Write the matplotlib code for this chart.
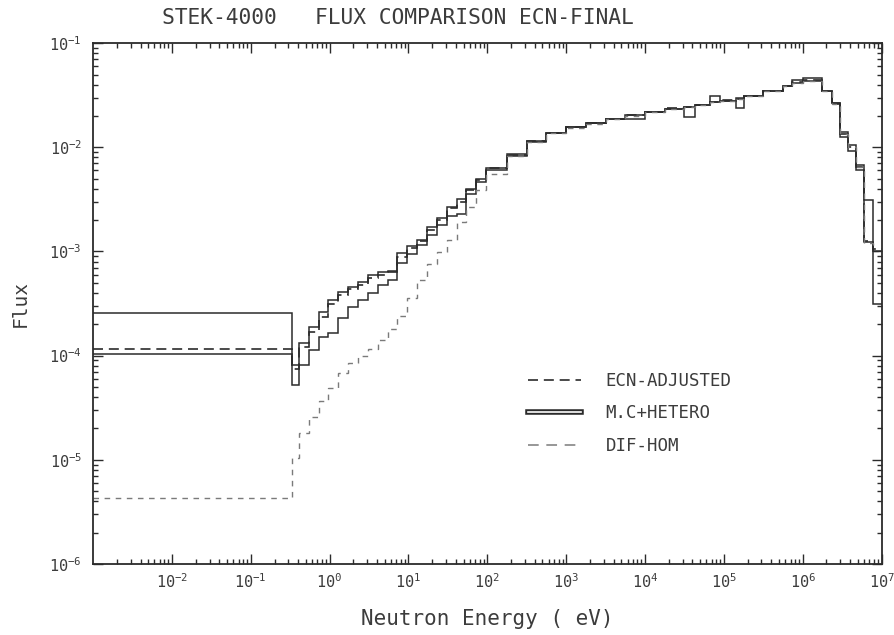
import numpy as np
import matplotlib
matplotlib.use("Agg")
import matplotlib.pyplot as plt
from matplotlib.lines import Line2D
from matplotlib.ticker import LogLocator, NullFormatter
import matplotlib.patheffects as pe

plt.rcParams["font.family"] = ["DejaVu Sans Mono", "DejaVu Sans"]
plt.rcParams["mathtext.default"] = "regular"

# Energy group boundaries (eV)
energy_edges = [1e-3, 0.33, 0.41, 0.543, 0.724, 0.966, 1.288, 1.718, 2.29,
                3.055, 4.07, 5.43, 7.24, 9.66, 12.9, 17.2, 22.9, 30.5, 40.7,
                54.3, 72.4, 96.6, 178, 316, 562, 1000, 1778, 3162, 5623,
                1.0e4, 1.78e4, 3.16e4, 4.27e4, 6.61e4, 8.91e4, 1.445e5,
                1.82e5, 3.16e5, 5.62e5, 7.41e5, 1.0e6, 1.32e6, 1.74e6,
                2.34e6, 2.95e6, 3.72e6, 4.79e6, 6.03e6, 7.76e6, 1.0e7]

# Group fluxes
flux_ecn_adjusted = [1.15e-4, 7.5e-5, 1.2e-4, 1.7e-4, 2.35e-4, 3.1e-4, 3.8e-4,
                     4.35e-4, 4.8e-4, 5.5e-4, 6.0e-4, 6.3e-4, 8.8e-4, 1.08e-3,
                     1.25e-3, 1.6e-3, 2.0e-3, 2.6e-3, 3.0e-3, 3.9e-3, 4.9e-3,
                     6.3e-3, 8.5e-3, 1.15e-2, 1.38e-2, 1.56e-2, 1.71e-2,
                     1.86e-2, 2.03e-2, 2.2e-2, 2.36e-2, 2.46e-2, 2.56e-2,
                     2.72e-2, 2.82e-2, 2.92e-2, 3.12e-2, 3.5e-2, 3.9e-2,
                     4.2e-2, 4.4e-2, 4.4e-2, 3.5e-2, 2.6e-2, 1.35e-2, 1.0e-2,
                     6.5e-3, 1.25e-3, 1.05e-3]

flux_mc = [2.55e-4, 5.2e-5, 1.32e-4, 1.87e-4, 2.6e-4, 3.4e-4, 4.1e-4, 4.6e-4,
           5.1e-4, 5.9e-4, 6.3e-4, 6.5e-4, 9.6e-4, 1.14e-3, 1.3e-3, 1.7e-3,
           2.1e-3, 2.7e-3, 3.2e-3, 4.0e-3, 5.0e-3, 6.4e-3, 8.6e-3, 1.15e-2,
           1.38e-2, 1.55e-2, 1.7e-2, 1.86e-2, 2.04e-2, 2.2e-2, 2.35e-2,
           1.95e-2, 2.55e-2, 2.7e-2, 2.8e-2, 2.4e-2, 3.1e-2, 3.5e-2, 3.9e-2,
           4.15e-2, 4.35e-2, 4.35e-2, 3.5e-2, 2.65e-2, 1.4e-2, 1.05e-2,
           6.8e-3, 3.1e-3, 3.1e-4]

flux_hetero = [1.03e-4, 8.1e-5, 8.1e-5, 1.12e-4, 1.5e-4, 1.66e-4, 2.3e-4,
               2.9e-4, 3.4e-4, 4.0e-4, 4.8e-4, 5.3e-4, 7.7e-4, 9.5e-4,
               1.15e-3, 1.45e-3, 1.8e-3, 2.2e-3, 2.3e-3, 3.6e-3, 4.6e-3,
               6.0e-3, 8.3e-3, 1.13e-2, 1.37e-2, 1.55e-2, 1.7e-2, 1.85e-2,
               1.85e-2, 2.2e-2, 2.35e-2, 2.45e-2, 2.55e-2, 3.1e-2, 2.8e-2,
               2.95e-2, 3.1e-2, 3.5e-2, 3.9e-2, 4.4e-2, 4.6e-2, 4.6e-2,
               3.5e-2, 2.65e-2, 1.25e-2, 9.3e-3, 6.0e-3, 1.23e-3, 1.0e-3]

flux_dif_hom = [4.3e-6, 1.05e-5, 1.8e-5, 2.6e-5, 3.7e-5, 4.9e-5, 6.8e-5,
                8.5e-5, 1.0e-4, 1.15e-4, 1.4e-4, 1.8e-4, 2.4e-4, 3.6e-4,
                5.3e-4, 7.5e-4, 9.8e-4, 1.3e-3, 1.9e-3, 2.7e-3, 3.9e-3,
                5.6e-3, 8.2e-3, 1.12e-2, 1.36e-2, 1.54e-2, 1.69e-2, 1.85e-2,
                2.02e-2, 2.18e-2, 2.34e-2, 2.44e-2, 2.54e-2, 2.7e-2, 2.8e-2,
                2.9e-2, 3.1e-2, 3.48e-2, 3.88e-2, 4.15e-2, 4.3e-2, 4.3e-2,
                3.45e-2, 2.6e-2, 1.35e-2, 1.0e-2, 6.5e-3, 1.2e-3, 1.0e-3]

series_labels = ["ECN-ADJUSTED", "M.C+HETERO", "DIF-HOM"]
x_tick_exponents = list(range(-2, 8))
y_tick_exponents = list(range(-6, 0))

INK = "#2b2b2b"
TEXT = "#3c3c3c"

fig = plt.figure(figsize=(8.95, 6.35), dpi=100)
ax = fig.add_axes([0.104, 0.112, 0.881, 0.820])

edges = np.array(energy_edges)
ax.stairs(flux_mc, edges, baseline=None, color=INK, lw=1.1)
ax.stairs(flux_hetero, edges, baseline=None, color=INK, lw=1.1)
ax.stairs(flux_ecn_adjusted, edges, baseline=None, color=INK, lw=1.2,
          linestyle=(0, (6, 3.5)))
ax.stairs(flux_dif_hom, edges, baseline=None, color="#7a7a7a", lw=1.0,
          linestyle=(0, (4, 4)))

ax.set_xscale("log")
ax.set_yscale("log")
ax.set_xlim(1e-3, 1e7)
ax.set_ylim(1e-6, 1e-1)

ax.set_xticks([10.0 ** e for e in x_tick_exponents])
ax.set_xticklabels([f"$10^{{{e}}}$" for e in x_tick_exponents])
ax.set_yticks([10.0 ** e for e in y_tick_exponents])
ax.set_yticklabels([f"$10^{{{e}}}$" for e in y_tick_exponents])
ax.xaxis.set_minor_locator(LogLocator(base=10, subs=np.arange(2, 10), numticks=30))
ax.yaxis.set_minor_locator(LogLocator(base=10, subs=np.arange(2, 10), numticks=30))
ax.xaxis.set_minor_formatter(NullFormatter())
ax.yaxis.set_minor_formatter(NullFormatter())

ax.tick_params(which="both", direction="in", top=True, right=True,
               color=INK, width=1.0)
ax.tick_params(which="major", length=7)
ax.tick_params(which="minor", length=3.5)
ax.tick_params(axis="x", which="major", labelsize=11, pad=6, labelcolor=TEXT)
ax.tick_params(axis="y", which="major", labelsize=11, pad=8, labelcolor=TEXT)
for s in ax.spines.values():
    s.set_color(INK)
    s.set_linewidth(1.3)

ax.set_xlabel("Neutron Energy ( eV)", fontsize=15, color=TEXT, labelpad=13)
ax.set_ylabel("Flux", fontsize=14, color=TEXT, labelpad=14)
fig.text(0.181, 0.972, "STEK-4000   FLUX COMPARISON ECN-FINAL",
         fontsize=15.3, color=TEXT, ha="left", va="center")

handles = [
    Line2D([], [], color=INK, lw=1.2, linestyle=(0, (6, 3.5))),
    Line2D([], [], color="white", lw=1.2,
           path_effects=[pe.Stroke(linewidth=4.0, foreground=INK), pe.Normal()]),
    Line2D([], [], color="#7a7a7a", lw=1.1, linestyle=(0, (7, 5))),
]
leg = ax.legend(handles, series_labels, loc="center left",
                bbox_to_anchor=(0.54, 0.289), frameon=False, borderpad=0,
                fontsize=12.5, handlelength=3.1, handletextpad=1.4,
                labelspacing=0.85)
for t in leg.get_texts():
    t.set_color(TEXT)

fig.savefig("out.png", dpi=100)
